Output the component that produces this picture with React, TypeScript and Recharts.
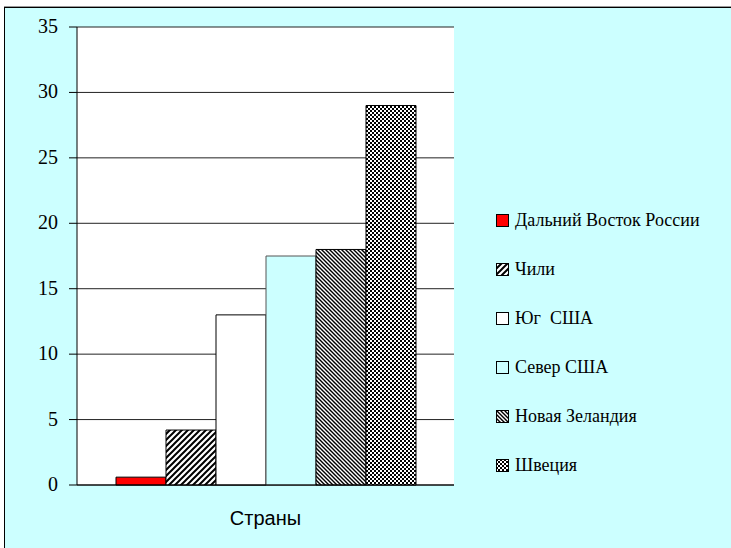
import React from 'react';
import { BarChart, Bar, XAxis, YAxis, CartesianGrid } from 'recharts';

const categories = ['Страны'];
const seriesNames = ['Дальний Восток России', 'Чили', 'Юг  США', 'Север США', 'Новая Зеландия', 'Швеция'];
const seriesValues = [0.6, 4.2, 13, 17.5, 18, 29];
const yTicks = [0, 5, 10, 15, 20, 25, 30, 35];

const seriesFills = ['#FF0000', 'url(#pChile)', '#FFFFFF', '#CCFFFF', 'url(#pNZ)', 'url(#pSweden)'];
const serifFont = "'Times New Roman', Times, Tinos, 'Noto Serif', 'DejaVu Serif', 'Liberation Serif', FreeSerif, serif";

const data = categories.map((name) => {
  const row: Record<string, string | number> = { name };
  seriesValues.forEach((v, i) => {
    row['s' + i] = v;
  });
  return row;
});

const Patterns = () => (
  <defs>
    <pattern id="pChile" patternUnits="userSpaceOnUse" width="6" height="6">
      <rect width="6" height="6" fill="#fff" />
      <path d="M-1,7 L7,-1 M-4,4 L4,-4 M2,10 L10,2" stroke="#000" strokeWidth="2" />
    </pattern>
    <pattern id="pNZ" patternUnits="userSpaceOnUse" width="4" height="4">
      <rect width="4" height="4" fill="#fff" />
      <path d="M-1,-1 L5,5 M-3,1 L1,5 M3,-1 L5,1" stroke="#000" strokeWidth="1.4" />
    </pattern>
    <pattern id="pSweden" patternUnits="userSpaceOnUse" width="4" height="4">
      <rect width="4" height="4" fill="#fff" />
      <rect x="0" y="0" width="2" height="2" fill="#000" />
      <rect x="2" y="2" width="2" height="2" fill="#000" />
    </pattern>
  </defs>
);

const XTick = (props: any) => {
  const { x, payload } = props;
  return (
    <text x={x} y={525} textAnchor="middle" style={{ fontFamily: "'Liberation Sans', Arial, sans-serif" }} fontSize={20} fill="#000">
      {payload.value}
    </text>
  );
};

const YTick = (props: any) => {
  const { x, y, payload } = props;
  return (
    <text x={x} y={y} dy={6} textAnchor="end" style={{ fontFamily: serifFont }} fontSize={20} fill="#000">
      {payload.value}
    </text>
  );
};

export default function App() {
  return (
    <div style={{ position: 'absolute', left: 0, top: 0, width: 731, height: 548, background: '#fff', overflow: 'hidden' }}>
      <div
        style={{
          position: 'absolute',
          left: 4,
          top: 7,
          width: 727,
          height: 541,
          background: '#CCFFFF',
          borderLeft: '1px solid #000',
          borderTop: '1px solid #000',
          boxShadow: '0 -1px 0 #999',
        }}
      />
      <div style={{ position: 'absolute', left: 0, top: 0 }}>
        <BarChart
          width={731}
          height={548}
          data={data}
          margin={{ top: 27, right: 277, bottom: 0, left: 0 }}
          barGap={0}
          barSize={50}
        >
          <Patterns />
          <CartesianGrid vertical={false} fill="#FFFFFF" stroke="#222" strokeOpacity={1} />
          <XAxis
            dataKey="name"
            height={63}
            tickLine={false}
            axisLine={{ stroke: '#000' }}
            tick={<XTick />}
          />
          <YAxis
            domain={[0, 35]}
            ticks={yTicks}
            width={77}
            tickSize={8}
            tickMargin={11}
            axisLine={{ stroke: '#000' }}
            tickLine={{ stroke: '#000' }}
            interval={0}
            tick={<YTick />}
          />
          <YAxis
            yAxisId="right"
            orientation="right"
            width={0}
            tick={false}
            tickLine={false}
            axisLine={{ stroke: '#808080' }}
            domain={[0, 35]}
          />
          {seriesNames.map((n, i) => (
            <Bar
              key={n}
              dataKey={'s' + i}
              name={n}
              fill={seriesFills[i]}
              stroke={i === 3 ? '#555' : '#000'}
              strokeWidth={1}
              isAnimationActive={false}
            />
          ))}
        </BarChart>
      </div>
      <div style={{ position: 'absolute', left: 496, top: 196, fontFamily: serifFont, fontSize: 18, color: '#000' }}>
        {seriesNames.map((n, i) => (
          <div key={n} style={{ height: 49, display: 'flex', alignItems: 'center' }}>
            <svg width={14} height={14} style={{ marginRight: 5 }}>
              <rect x={0.5} y={0.5} width={12} height={12} fill={seriesFills[i]} stroke="#000" />
            </svg>
            <span style={{ whiteSpace: 'pre', fontFamily: serifFont }}>{n}</span>
          </div>
        ))}
      </div>
    </div>
  );
}
